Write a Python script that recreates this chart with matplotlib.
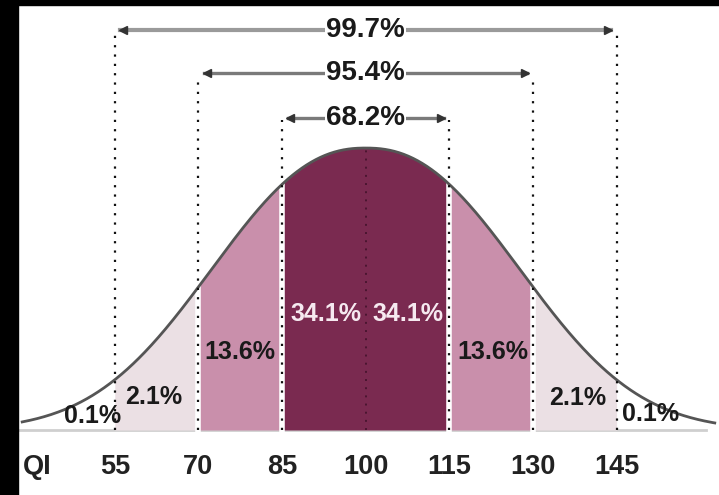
import numpy as np
import matplotlib
matplotlib.use("Agg")
import matplotlib.pyplot as plt
from matplotlib.patches import Rectangle

# Datos del gráfico (distribución del QI)
bordes = [55, 70, 85, 100, 115, 130, 145]
etiquetas_eje = ["55", "70", "85", "100", "115", "130", "145"]
regiones = [(55, 70), (70, 85), (85, 115), (115, 130), (130, 145)]
colores_region = ["#ebe0e4", "#c98fab", "#7a2a50", "#c98fab", "#ebe0e4"]

porcentajes = ["0.1%", "2.1%", "13.6%", "34.1%", "34.1%", "13.6%", "2.1%", "0.1%"]
pos_porcentajes = [51, 62, 77.5, 92.8, 107.5, 122.8, 138, 151]
alt_porcentajes = [0.05, 0.117, 0.277, 0.411, 0.411, 0.277, 0.115, 0.055]

rangos = ["99.7%", "95.4%", "68.2%"]
rango_lim = [(55, 145), (70, 130), (85, 115)]
rango_alt = [1.418, 1.266, 1.108]

media = 100
escala = 35.5
potencia = 2.3


def curva(x):
    return np.exp(-(np.abs(x - media) / escala) ** potencia)


fig = plt.figure(figsize=(7.19, 4.95), dpi=100)
ax = fig.add_axes([0, 0, 1, 1])
ax.set_xlim(34.42, 163.36)
ax.set_ylim(-0.2305, 1.525)
ax.axis("off")

# Línea base gris
ax.plot([36, 161], [0, 0], color="#cfcfcf", lw=2, zorder=1)

# Regiones sombreadas
for (a, b), c in zip(regiones, colores_region):
    xs = np.linspace(a, b, 200)
    ax.fill_between(xs, 0, curva(xs), color=c, lw=0, zorder=2)

# Separaciones blancas entre regiones
for x in [70, 85, 115, 130]:
    ax.plot([x, x], [0, curva(x)], color="white", lw=4, zorder=3)

# Curva
xs = np.linspace(38.4, 162.6, 600)
ax.plot(xs, curva(xs), color="#555555", lw=2, zorder=4)

# Líneas punteadas verticales
for (a, b), y in zip(rango_lim, rango_alt):
    for x in (a, b):
        ax.plot([x, x], [0, y - 0.01], color="#111111", lw=1.6,
                ls=(0, (1, 3.2)), zorder=5)
ax.plot([media, media], [0, curva(media)], color="#4a1530", lw=1.4,
        ls=(0, (1, 3.2)), zorder=5)

# Flechas de rango
grosores = [3, 2.4, 2.4]
grises = ["#9a9a9a", "#7a7a7a", "#7a7a7a"]
for txt, (a, b), y, lw, g in zip(rangos, rango_lim, rango_alt, grosores, grises):
    ax.plot([a + 1, b - 1], [y, y], color=g, lw=lw, zorder=5)
    ax.plot([a + 1.5], [y], marker="<", color="#333333", ms=6, zorder=6)
    ax.plot([b - 1.5], [y], marker=">", color="#333333", ms=6, zorder=6)
    ax.text(media, y, txt, ha="center", va="center", fontsize=20,
            fontweight="bold", color="#1a1a1a", zorder=7,
            family=["Liberation Sans", "DejaVu Sans"],
            bbox=dict(facecolor="white", edgecolor="none", pad=0.5))

# Porcentajes dentro de las regiones
for txt, x, y in zip(porcentajes, pos_porcentajes, alt_porcentajes):
    col = "#f6e9f0" if txt == "34.1%" else "#1a1a1a"
    ax.text(x, y, txt, ha="center", va="center", fontsize=18,
            fontweight="bold", color=col, zorder=8,
            family=["Liberation Sans", "DejaVu Sans"])

# Eje inferior
for x, lab in zip(bordes, etiquetas_eje):
    ax.text(x, -0.131, lab, ha="center", va="center", fontsize=19.5,
            fontweight="bold", color="#222222",
            family=["Liberation Sans", "DejaVu Sans"])
ax.text(41.05, -0.131, "QI", ha="center", va="center", fontsize=19.5,
        fontweight="bold", color="#222222",
        family=["Liberation Sans", "DejaVu Sans"])

# Marco negro (izquierda y arriba)
fig.patches.append(Rectangle((0, 0), 18 / 719, 1, transform=fig.transFigure,
                             color="black", zorder=10))
fig.patches.append(Rectangle((0, 1 - 5 / 495), 1, 5 / 495,
                             transform=fig.transFigure, color="black", zorder=10))

fig.savefig("out.png", dpi=100, facecolor="white")
